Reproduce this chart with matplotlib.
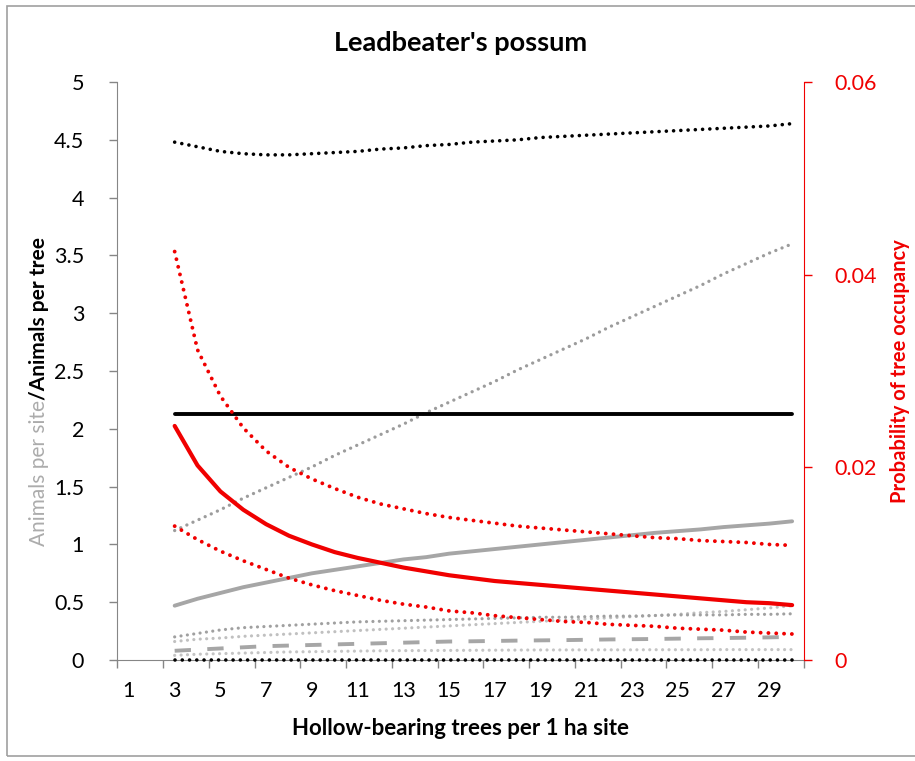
import numpy as np
from matplotlib import pyplot as plt
from matplotlib.patches import Rectangle
from matplotlib.ticker import FuncFormatter

plt.rcParams['font.family'] = ['Lato', 'DejaVu Sans']

# hollow-bearing trees per site (categories 3..30)
trees = list(range(3, 31))

# left axis: animals per site (grey) / animals per tree (black)
per_tree_upper = [4.48, 4.44, 4.40, 4.38, 4.37, 4.37, 4.38, 4.39, 4.40, 4.42,
                  4.43, 4.45, 4.46, 4.48, 4.49, 4.50, 4.52, 4.53, 4.54, 4.55,
                  4.56, 4.57, 4.58, 4.59, 4.60, 4.61, 4.62, 4.64]
per_tree_mean = [2.13] * 28
per_tree_lower = [0.0] * 28
per_site_upper = [1.12, 1.21, 1.30, 1.40, 1.49, 1.58, 1.67, 1.77, 1.86, 1.95,
                  2.04, 2.14, 2.23, 2.32, 2.41, 2.51, 2.60, 2.69, 2.78, 2.88,
                  2.97, 3.06, 3.15, 3.24, 3.34, 3.43, 3.52, 3.60]
per_site_mean = [0.47, 0.53, 0.58, 0.63, 0.67, 0.71, 0.75, 0.78, 0.81, 0.84,
                 0.87, 0.89, 0.92, 0.94, 0.96, 0.98, 1.00, 1.02, 1.04, 1.06,
                 1.08, 1.10, 1.115, 1.13, 1.15, 1.165, 1.18, 1.20]
site_dot_a = [0.20, 0.23, 0.26, 0.28, 0.29, 0.30, 0.31, 0.32, 0.33, 0.335,
              0.34, 0.345, 0.35, 0.355, 0.36, 0.365, 0.37, 0.37, 0.375, 0.38,
              0.38, 0.385, 0.39, 0.39, 0.39, 0.395, 0.395, 0.40]
site_dot_b = [0.16, 0.18, 0.19, 0.205, 0.215, 0.225, 0.235, 0.245, 0.255, 0.265,
              0.275, 0.285, 0.295, 0.305, 0.315, 0.325, 0.335, 0.345, 0.355, 0.365,
              0.375, 0.385, 0.395, 0.41, 0.42, 0.435, 0.45, 0.47]
site_dash = [0.08, 0.09, 0.10, 0.11, 0.12, 0.125, 0.13, 0.135, 0.14, 0.145,
             0.15, 0.155, 0.16, 0.162, 0.165, 0.168, 0.17, 0.172, 0.175, 0.178,
             0.18, 0.182, 0.185, 0.188, 0.19, 0.193, 0.196, 0.20]
site_dot_c = [0.04, 0.05, 0.055, 0.06, 0.065, 0.07, 0.072, 0.075, 0.077, 0.08,
              0.081, 0.082, 0.083, 0.084, 0.085, 0.086, 0.087, 0.087, 0.088, 0.088,
              0.088, 0.089, 0.089, 0.089, 0.09, 0.09, 0.09, 0.09]

# right axis: probability of tree occupancy
occ_upper = [0.0424, 0.0322, 0.0274, 0.0241, 0.0217, 0.0200, 0.0188, 0.0178, 0.0169, 0.0162,
             0.0157, 0.0152, 0.0148, 0.0145, 0.0142, 0.0139, 0.0137, 0.0135, 0.0133, 0.0131,
             0.0129, 0.0127, 0.0126, 0.0124, 0.0123, 0.0122, 0.0120, 0.0119]
occ_mean = [0.0243, 0.0202, 0.0175, 0.0156, 0.0141, 0.0129, 0.0120, 0.0112, 0.0106, 0.0101,
            0.0096, 0.0092, 0.0088, 0.0085, 0.0082, 0.0080, 0.0078, 0.0076, 0.0074, 0.0072,
            0.0070, 0.0068, 0.0066, 0.0064, 0.0062, 0.0060, 0.0059, 0.0057]
occ_lower = [0.0139, 0.0125, 0.0113, 0.0103, 0.0094, 0.0085, 0.0078, 0.0072, 0.0067, 0.0062,
             0.0058, 0.0055, 0.0051, 0.0049, 0.0046, 0.0044, 0.0042, 0.0040, 0.0039, 0.0037,
             0.0036, 0.0035, 0.0033, 0.0032, 0.0031, 0.0029, 0.0028, 0.0027]

left_ticks = np.arange(0, 5.01, 0.5)
right_ticks = [0, 0.02, 0.04, 0.06]
x_labels = list(range(1, 30, 2))

RED = '#f00000'
AXIS_GREY = '#868686'
DOT = (0, (0.01, 2.0))

fig = plt.figure(figsize=(9.15, 7.61), dpi=100)
ax = fig.add_axes([0.1284, 0.1327, 0.7498, 0.7595])
ax2 = ax.twinx()

# grey (per site) series
ax.plot(trees, site_dot_c, color='#c4c4c4', lw=2.3, ls=DOT, dash_capstyle='round')
ax.plot(trees, site_dash, color='#a6a6a6', lw=2.8, ls=(0, (4.2, 4.2)))
ax.plot(trees, site_dot_b, color='#c0c0c0', lw=2.3, ls=DOT, dash_capstyle='round')
ax.plot(trees, site_dot_a, color='#a0a0a0', lw=2.3, ls=DOT, dash_capstyle='round')
ax.plot(trees, per_site_mean, color='#a6a6a6', lw=2.8, solid_capstyle='round')
ax.plot(trees, per_site_upper, color='#9c9c9c', lw=2.4, ls=DOT, dash_capstyle='round')
# black (per tree) series
ax.plot(trees, per_tree_lower, color='black', lw=2.6, ls=DOT, dash_capstyle='round',
        clip_on=False, zorder=5)
ax.plot(trees, per_tree_mean, color='black', lw=2.8, solid_capstyle='round')
ax.plot(trees, per_tree_upper, color='black', lw=2.6, ls=DOT, dash_capstyle='round')

# red (occupancy) series
ax2.plot(trees, occ_upper, color=RED, lw=2.8, ls=DOT, dash_capstyle='round')
ax2.plot(trees, occ_lower, color=RED, lw=2.8, ls=DOT, dash_capstyle='round')
ax2.plot(trees, occ_mean, color=RED, lw=3.0, solid_capstyle='round')

ax.set_xlim(0.5, 30.5)
ax.set_ylim(0, 5)
ax2.set_ylim(0, 0.06)

fmt = FuncFormatter(lambda v, p: f'{v:g}')
ax.set_yticks(left_ticks)
ax.yaxis.set_major_formatter(fmt)
ax2.set_yticks(right_ticks)
ax2.yaxis.set_major_formatter(fmt)

ax.set_xticks(np.arange(0.5, 31, 2))
ax.set_xticklabels([])
ax.set_xticks(x_labels, minor=True)
ax.set_xticklabels([str(v) for v in x_labels], minor=True)
ax.tick_params(axis='x', which='minor', length=0, pad=15, labelsize=15.5)
ax.tick_params(axis='x', which='major', length=6, width=1, color=AXIS_GREY)
ax.tick_params(axis='y', length=6, width=1, color=AXIS_GREY, pad=18, labelsize=15.5)
ax2.tick_params(axis='y', length=6, width=1, color=RED, labelcolor=RED, pad=16, labelsize=15.5)

for s in ['top', 'right']:
    ax.spines[s].set_visible(False)
for s in ['top', 'left', 'bottom']:
    ax2.spines[s].set_visible(False)
ax.spines['left'].set_color(AXIS_GREY)
ax.spines['bottom'].set_color(AXIS_GREY)
ax2.spines['right'].set_color(RED)

ax.set_title("Leadbeater's possum", fontsize=19.5, fontweight='bold', pad=22)
ax.set_xlabel('Hollow-bearing trees per 1 ha site', fontsize=16, fontweight='bold', labelpad=12)
ax2.set_ylabel('Probability of tree occupancy', fontsize=14.5, fontweight='bold', color=RED, labelpad=10)

# two-coloured left axis title
split_y = 0.474
fig.text(0.043, split_y, 'Animals per site', rotation=90, rotation_mode='anchor',
         ha='right', va='center', fontsize=15, color='#acacac')
fig.text(0.043, split_y, '/Animals per tree', rotation=90, rotation_mode='anchor',
         ha='left', va='center', fontsize=15, fontweight='bold', color='black')

# chart area border
fig.patches.append(Rectangle((7 / 915, 5 / 761), 1.2, 750 / 761, transform=fig.transFigure,
                             fill=False, edgecolor='#a0a0a0', lw=1.2))

plt.savefig('out.png', dpi=100)
